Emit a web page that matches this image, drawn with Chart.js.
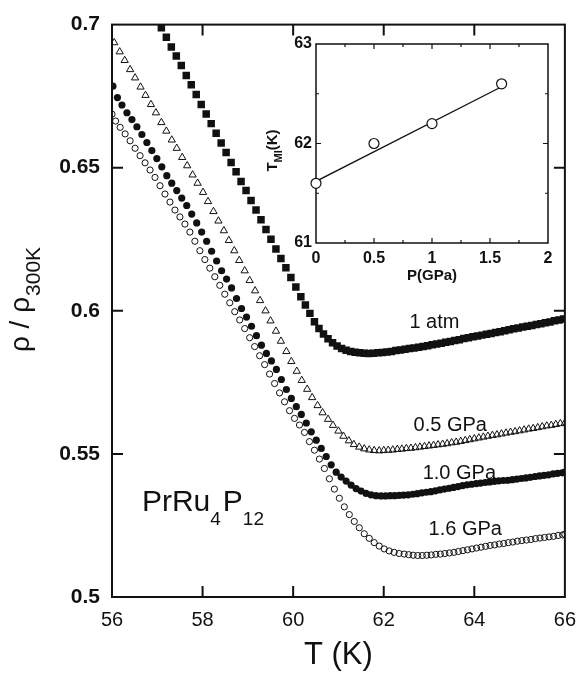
<!DOCTYPE html>
<html>
<head>
<meta charset="utf-8">
<script src="https://cdn.jsdelivr.net/npm/chart.js@4.4.1/dist/chart.umd.min.js"></script>
<style>
  html, body { margin: 0; padding: 0; background: #fff; }
  #wrap { position: relative; width: 587px; height: 683px; }
  #mainChart { position: absolute; left: 0; top: 0; }
  #insetChart { position: absolute; left: 255px; top: 20px; }
</style>
</head>
<body>
<div id="wrap">
  <canvas id="mainChart" width="587" height="683"></canvas>
  <canvas id="insetChart" width="310" height="275"></canvas>
</div>
<script>
// main panel: rho/rho300K vs T
const tAtm = [57.09,57.20,57.31,57.42,57.53,57.64,57.75,57.86,57.97,58.08,58.19,58.30,58.41,58.52,58.63,58.74,58.85,58.96,59.07,59.18,59.29,59.40,59.51,59.62,59.73,59.84,59.95,60.06,60.17,
  60.27,60.37,60.47,60.57,60.67,60.77,60.87,60.97,61.07,61.17,61.27,61.37,61.47,61.57,61.67,61.77,61.87,61.97,
  62.07,62.17,62.27,62.37,62.47,62.57,62.67,62.77,62.87,62.97,63.07,63.17,63.27,63.37,63.47,63.57,63.67,63.77,63.87,63.97,
  64.07,64.17,64.27,64.37,64.47,64.57,64.67,64.77,64.87,64.97,65.07,65.17,65.27,65.37,65.47,65.57,65.67,65.77,65.87,65.97];
const rhoAtm = [0.6989,0.6956,0.6922,0.6890,0.6857,0.6822,0.6790,0.6756,0.6721,0.6688,0.6654,0.6620,0.6586,0.6553,0.6518,0.6486,0.6452,0.6420,0.6385,0.6352,0.6318,0.6284,0.6250,0.6216,0.6183,0.6150,0.6116,0.6083,0.6049,
  0.6020,0.5991,0.5962,0.5938,0.5919,0.5902,0.5888,0.5877,0.5868,0.5862,0.5858,0.5855,0.5853,0.5852,0.5851,0.5852,0.5853,0.5854,
  0.5856,0.5858,0.5861,0.5863,0.5866,0.5868,0.5870,0.5873,0.5875,0.5878,0.5881,0.5884,0.5887,0.5890,0.5893,0.5896,0.5899,0.5903,0.5906,0.5909,
  0.5912,0.5915,0.5918,0.5921,0.5924,0.5927,0.5930,0.5934,0.5937,0.5940,0.5943,0.5946,0.5949,0.5952,0.5955,0.5958,0.5961,0.5965,0.5968,0.5971];

const t05 = [56.05,56.17,56.28,56.40,56.51,56.63,56.74,56.86,56.97,57.09,57.20,57.32,57.43,57.55,57.66,57.78,57.89,58.01,58.12,58.24,58.35,58.47,58.58,58.70,58.81,58.93,59.04,59.16,59.27,59.39,59.50,59.62,59.73,59.85,59.96,
  60.08,60.19,60.31,60.42,60.54,60.65,60.77,60.88,61.00,61.11,61.23,61.34,61.46,61.57,61.68,61.79,61.90,
  62.00,62.10,62.20,62.30,62.40,62.50,62.60,62.70,62.80,62.90,63.00,63.10,63.20,63.30,63.40,63.50,63.60,63.70,63.80,63.90,
  64.00,64.10,64.20,64.30,64.40,64.50,64.60,64.70,64.80,64.90,65.00,65.10,65.20,65.30,65.40,65.50,65.60,65.70,65.80,65.90,66.00];
const rho05 = [0.6937,0.6905,0.6875,0.6843,0.6814,0.6782,0.6753,0.6721,0.6692,0.6658,0.6628,0.6597,0.6568,0.6536,0.6507,0.6475,0.6446,0.6414,0.6382,0.6347,0.6314,0.6280,0.6246,0.6210,0.6176,0.6140,0.6106,0.6070,0.6036,0.6000,0.5965,0.5929,0.5894,0.5858,0.5823,
  0.5789,0.5757,0.5726,0.5697,0.5669,0.5644,0.5621,0.5600,0.5580,0.5562,0.5546,0.5533,0.5524,0.5518,0.5514,0.5512,0.5511,
  0.5512,0.5513,0.5514,0.5516,0.5517,0.5519,0.5520,0.5522,0.5524,0.5526,0.5528,0.5530,0.5532,0.5534,0.5536,0.5539,0.5541,0.5544,0.5547,0.5550,
  0.5553,0.5556,0.5559,0.5562,0.5565,0.5567,0.5570,0.5573,0.5576,0.5578,0.5581,0.5584,0.5587,0.5589,0.5592,0.5595,0.5598,0.5600,0.5603,0.5606,0.5608];

const t10 = [56.02,56.12,56.22,56.33,56.44,56.55,56.66,56.77,56.88,56.99,57.10,57.21,57.32,57.43,57.54,57.65,57.76,57.87,57.98,58.09,58.20,58.31,58.42,58.53,58.64,58.75,58.86,58.97,59.08,59.19,59.30,59.41,59.52,59.63,59.74,59.85,59.96,
  60.07,60.18,60.29,60.40,60.51,60.62,60.73,60.84,60.95,61.06,61.17,61.28,61.39,61.50,61.61,61.72,61.83,61.94,
  62.04,62.14,62.24,62.34,62.44,62.54,62.64,62.74,62.84,62.94,63.04,63.14,63.24,63.34,63.44,63.54,63.64,63.74,63.84,63.94,
  64.04,64.14,64.24,64.34,64.44,64.54,64.64,64.74,64.84,64.94,65.04,65.14,65.24,65.34,65.44,65.54,65.64,65.74,65.84,65.94,66.00];
const rho10 = [0.6785,0.6745,0.6719,0.6692,0.6668,0.6643,0.6616,0.6588,0.6560,0.6532,0.6503,0.6472,0.6446,0.6420,0.6394,0.6368,0.6338,0.6307,0.6275,0.6243,0.6208,0.6174,0.6140,0.6111,0.6080,0.6043,0.6008,0.5978,0.5946,0.5913,0.5880,0.5851,0.5825,0.5795,0.5760,0.5725,0.5694,
  0.5665,0.5638,0.5608,0.5577,0.5548,0.5519,0.5491,0.5462,0.5436,0.5419,0.5405,0.5391,0.5379,0.5370,0.5362,0.5357,0.5354,0.5353,
  0.5353,0.5354,0.5354,0.5355,0.5356,0.5357,0.5359,0.5361,0.5364,0.5366,0.5368,0.5371,0.5374,0.5377,0.5380,0.5383,0.5386,0.5389,0.5392,0.5394,
  0.5396,0.5398,0.5400,0.5402,0.5404,0.5406,0.5407,0.5408,0.5410,0.5412,0.5414,0.5416,0.5418,0.5421,0.5423,0.5425,0.5427,0.5430,0.5432,0.5434,0.5436];

const t16 = [56.00,56.08,56.18,56.29,56.40,56.51,56.62,56.73,56.84,56.95,57.06,57.17,57.28,57.39,57.50,57.61,57.72,57.83,57.94,58.05,58.16,58.27,58.38,58.49,58.60,58.71,58.82,58.93,59.04,59.15,59.26,59.37,59.48,59.59,59.70,59.81,59.92,
  60.03,60.14,60.25,60.36,60.47,60.58,60.69,60.80,60.91,61.02,61.13,61.24,61.35,61.46,61.57,61.68,61.79,61.90,62.01,62.12,62.23,62.34,62.45,
  62.55,62.65,62.75,62.85,62.95,63.05,63.15,63.25,63.35,63.45,63.55,63.65,63.75,63.85,63.95,
  64.05,64.15,64.25,64.35,64.45,64.55,64.65,64.75,64.85,64.95,65.05,65.15,65.25,65.35,65.45,65.55,65.65,65.75,65.85,65.95,66.00];
const rho16 = [0.6687,0.6663,0.6641,0.6618,0.6594,0.6568,0.6542,0.6517,0.6492,0.6466,0.6437,0.6408,0.6380,0.6352,0.6328,0.6303,0.6275,0.6243,0.6210,0.6179,0.6149,0.6119,0.6089,0.6058,0.6028,0.5997,0.5968,0.5938,0.5906,0.5875,0.5843,0.5812,0.5779,0.5746,0.5713,0.5682,0.5651,
  0.5624,0.5601,0.5575,0.5543,0.5513,0.5482,0.5449,0.5413,0.5377,0.5345,0.5315,0.5288,0.5264,0.5242,0.5221,0.5205,0.5190,0.5178,0.5168,0.5161,0.5156,0.5152,0.5150,
  0.5148,0.5146,0.5145,0.5145,0.5146,0.5147,0.5149,0.5150,0.5152,0.5154,0.5156,0.5159,0.5162,0.5165,0.5168,
  0.5171,0.5174,0.5177,0.5180,0.5182,0.5185,0.5187,0.5190,0.5192,0.5195,0.5197,0.5199,0.5201,0.5204,0.5206,0.5208,0.5210,0.5212,0.5215,0.5217,0.5219];

// inset: T_MI vs pressure
const pressure = [0, 0.5, 1.0, 1.6];
const tmi = [61.6, 62.0, 62.2, 62.6];
const fitP = [0, 1.6];
const fitT = [61.62, 62.57];

const curveLabels = [
  { text: '1 atm', t: 63.12, r: 0.5959 },
  { text: '0.5 GPa', t: 63.47, r: 0.5598 },
  { text: '1.0 GPa', t: 63.67, r: 0.5433 },
  { text: '1.6 GPa', t: 63.80, r: 0.5237 }
];

const INK = '#111';
const FONT = "'Liberation Sans', Arial, Helvetica, sans-serif";
Chart.defaults.font.family = FONT;
Chart.defaults.color = INK;

function pts(xs, ys) {
  const out = [];
  for (let i = 0; i < Math.min(xs.length, ys.length); i++) out.push({ x: xs[i], y: ys[i] });
  return out;
}

// frame with inward ticks, curve labels, y title with subscript
const mainDecor = {
  id: 'mainDecor',
  afterDatasetsDraw(chart) {
    const { ctx, chartArea: a, scales: { x, y } } = chart;
    ctx.save();
    ctx.strokeStyle = INK;
    ctx.lineWidth = 2;
    ctx.strokeRect(a.left, a.top, a.right - a.left, a.bottom - a.top);
    ctx.beginPath();
    x.ticks.forEach(tk => {
      const px = x.getPixelForValue(tk.value);
      if (px <= a.left + 1 || px >= a.right - 1) return;
      ctx.moveTo(px, a.bottom); ctx.lineTo(px, a.bottom - 11);
      ctx.moveTo(px, a.top); ctx.lineTo(px, a.top + 11);
    });
    y.ticks.forEach(tk => {
      const py = y.getPixelForValue(tk.value);
      if (py <= a.top + 1 || py >= a.bottom - 1) return;
      ctx.moveTo(a.left, py); ctx.lineTo(a.left + 11, py);
      ctx.moveTo(a.right, py); ctx.lineTo(a.right - 11, py);
    });
    ctx.stroke();

    ctx.fillStyle = INK;
    ctx.font = `20px ${FONT}`;
    ctx.textAlign = 'center';
    ctx.textBaseline = 'middle';
    curveLabels.forEach(l => ctx.fillText(l.text, x.getPixelForValue(l.t), y.getPixelForValue(l.r)));

    // compound name
    ctx.textAlign = 'left';
    ctx.textBaseline = 'alphabetic';
    let cx = x.getPixelForValue(56.66);
    const cy = y.getPixelForValue(0.5299);
    const parts = [['PrRu', 30, 0], ['4', 19, 14], ['P', 30, 0], ['12', 19, 14]];
    parts.forEach(([s, size, dy]) => {
      ctx.font = `${size}px ${FONT}`;
      ctx.fillText(s, cx, cy + dy);
      cx += ctx.measureText(s).width + (size < 25 ? 2 : 0);
    });

    // y axis title
    ctx.translate(29, 300);
    ctx.rotate(-Math.PI / 2);
    ctx.font = `28px ${FONT}`;
    const main = 'ρ / ρ';
    const w1 = ctx.measureText(main).width;
    ctx.font = `21px ${FONT}`;
    const w2 = ctx.measureText('300K').width;
    const sx = -(w1 + w2) / 2;
    ctx.font = `28px ${FONT}`;
    ctx.fillText(main, sx, 0);
    ctx.font = `21px ${FONT}`;
    ctx.fillText('300K', sx + w1 + 1, 11);
    ctx.restore();
  }
};

new Chart(document.getElementById('mainChart'), {
  type: 'scatter',
  data: {
    datasets: [
      { label: '1 atm', data: pts(tAtm, rhoAtm), pointStyle: 'rect', pointRadius: 5.3,
        backgroundColor: INK, borderColor: INK, borderWidth: 0 },
      { label: '0.5 GPa', data: pts(t05, rho05), pointStyle: 'triangle', pointRadius: 4.2,
        backgroundColor: 'rgba(0,0,0,0)', borderColor: INK, borderWidth: 1 },
      { label: '1.0 GPa', data: pts(t10, rho10), pointStyle: 'circle', pointRadius: 3.6,
        backgroundColor: INK, borderColor: INK, borderWidth: 0 },
      { label: '1.6 GPa', data: pts(t16, rho16), pointStyle: 'circle', pointRadius: 3.1,
        backgroundColor: 'rgba(0,0,0,0)', borderColor: INK, borderWidth: 1 }
    ]
  },
  options: {
    responsive: false,
    animation: false,
    devicePixelRatio: 1,
    events: [],
    layout: { padding: { top: 15, right: 20, left: 0, bottom: 0 } },
    plugins: { legend: { display: false }, tooltip: { enabled: false } },
    scales: {
      x: {
        type: 'linear', min: 56, max: 66,
        grid: { display: false, drawTicks: false },
        border: { display: false },
        ticks: { stepSize: 2, padding: 11, font: { size: 20 }, color: INK, maxRotation: 0 },
        title: { display: true, text: 'T (K)', font: { size: 31 }, color: INK, padding: { top: 0, bottom: 9 } },
        afterFit: s => { s.height = 86; }
      },
      y: {
        type: 'linear', min: 0.5, max: 0.7,
        grid: { display: false, drawTicks: false },
        border: { display: false },
        ticks: { stepSize: 0.05, padding: 12, font: { size: 21, weight: 'bold' }, color: INK,
                 callback: v => String(+v.toFixed(2)) },
        afterFit: s => { s.width = 112; }
      }
    }
  },
  plugins: [mainDecor]
});

// inset frame is drawn under the points so the open circle at P=0 covers the axis
const insetDecor = {
  id: 'insetDecor',
  beforeDatasetsDraw(chart) {
    const { ctx, chartArea: a, scales: { x, y } } = chart;
    ctx.save();
    ctx.strokeStyle = INK;
    ctx.lineWidth = 1.5;
    ctx.strokeRect(a.left, a.top, a.right - a.left, a.bottom - a.top);
    ctx.lineWidth = 1.2;
    ctx.beginPath();
    for (let v = x.min + 0.25; v < x.max - 0.01; v += 0.25) {
      const px = x.getPixelForValue(v);
      const len = Math.abs(v * 2 - Math.round(v * 2)) < 0.01 ? 5 : 3;
      ctx.moveTo(px, a.bottom); ctx.lineTo(px, a.bottom - len);
      ctx.moveTo(px, a.top); ctx.lineTo(px, a.top + len);
    }
    for (let v = y.min + 0.5; v < y.max - 0.01; v += 0.5) {
      const py = y.getPixelForValue(v);
      const len = Math.abs(v - Math.round(v)) < 0.01 ? 5 : 3;
      ctx.moveTo(a.left, py); ctx.lineTo(a.left + len, py);
      ctx.moveTo(a.right, py); ctx.lineTo(a.right - len, py);
    }
    ctx.stroke();

    // y title T_MI(K)
    ctx.fillStyle = INK;
    ctx.translate(22, (a.top + a.bottom) / 2 + 7);
    ctx.rotate(-Math.PI / 2);
    ctx.textBaseline = 'alphabetic';
    ctx.textAlign = 'left';
    const segs = [['T', 15, 0], ['MI', 11, 5], ['(K)', 15, 0]];
    let total = 0;
    segs.forEach(([s, size]) => { ctx.font = `bold ${size}px ${FONT}`; total += ctx.measureText(s).width; });
    let sx = -total / 2;
    segs.forEach(([s, size, dy]) => {
      ctx.font = `bold ${size}px ${FONT}`;
      ctx.fillText(s, sx, dy);
      sx += ctx.measureText(s).width;
    });
    ctx.restore();
  }
};

new Chart(document.getElementById('insetChart'), {
  type: 'scatter',
  data: {
    datasets: [
      { data: pts(pressure, tmi), pointStyle: 'circle', pointRadius: 5,
        backgroundColor: '#fff', borderColor: INK, borderWidth: 1.2, clip: false, order: 0 },
      { data: pts(fitP, fitT), showLine: true, pointRadius: 0, borderColor: INK, borderWidth: 1.3,
        fill: false, order: 1 }
    ]
  },
  options: {
    responsive: false,
    animation: false,
    devicePixelRatio: 1,
    events: [],
    layout: { padding: { top: 24, right: 17, left: 0, bottom: 0 } },
    plugins: { legend: { display: false }, tooltip: { enabled: false } },
    scales: {
      x: {
        type: 'linear', min: 0, max: 2,
        grid: { display: false, drawTicks: false },
        border: { display: false },
        ticks: { stepSize: 0.5, padding: 6, font: { size: 16, weight: 'bold' }, color: INK, maxRotation: 0,
                 callback: v => String(+v.toFixed(2)) },
        title: { display: true, text: 'P(GPa)', font: { size: 15, weight: 'bold' }, color: INK,
                 padding: { top: 0, bottom: 10 } },
        afterFit: s => { s.height = 52; }
      },
      y: {
        type: 'linear', min: 61, max: 63,
        grid: { display: false, drawTicks: false },
        border: { display: false },
        ticks: { stepSize: 1, padding: 4, font: { size: 16, weight: 'bold' }, color: INK },
        afterFit: s => { s.width = 61; }
      }
    }
  },
  plugins: [insetDecor]
});
</script>
</body>
</html>
